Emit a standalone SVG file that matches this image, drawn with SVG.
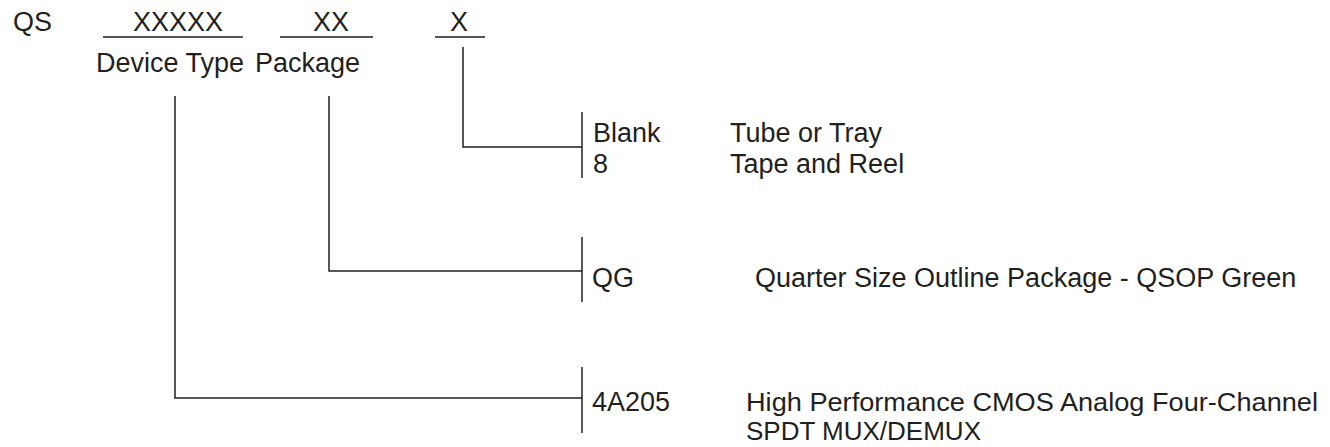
<svg xmlns="http://www.w3.org/2000/svg" width="1330" height="447" viewBox="0 0 1330 447">
<style>
text{font-family:"Liberation Sans",Arial,Helvetica,sans-serif;font-size:27px;fill:#231f20}
text.sm{font-size:26px}
line{stroke:#231f20;stroke-width:1.5;fill:none}
polyline{stroke:#231f20;stroke-width:1.5;fill:none}
</style>
<rect width="1330" height="447" fill="#ffffff"/>
<g id="header">
<text x="13" y="31">QS</text>
<text x="133" y="31">XXXXX</text>
<text x="313" y="31">XX</text>
<text x="450" y="31">X</text>
<line x1="103" y1="37" x2="243" y2="37"/>
<line x1="280" y1="37" x2="373" y2="37"/>
<line x1="435" y1="37" x2="485" y2="37"/>
<text x="96" y="72">Device Type</text>
<text x="255" y="72">Package</text>
</g>
<g id="connectors">
<polyline points="463,47 463,147 582,147"/>
<line x1="582" y1="112" x2="582" y2="178"/>
<polyline points="329,96 329,271 582,271"/>
<line x1="582" y1="237" x2="582" y2="302"/>
<polyline points="175,96 175,398 582,398"/>
<line x1="582" y1="367" x2="582" y2="433"/>
</g>
<g id="node-option">
<text x="593" y="142">Blank</text>
<text x="593" y="173">8</text>
<text x="730" y="142">Tube or Tray</text>
<text x="730" y="173">Tape and Reel</text>
</g>
<g id="node-package">
<text x="592" y="287">QG</text>
<text x="755" y="287">Quarter Size Outline Package - QSOP Green</text>
</g>
<g id="node-device">
<text x="592" y="411">4A205</text>
<text class="sm" x="746" y="411" textLength="572" lengthAdjust="spacingAndGlyphs">High Performance CMOS Analog Four-Channel</text>
<text class="sm" x="746" y="440">SPDT MUX/DEMUX</text>
</g>
</svg>
